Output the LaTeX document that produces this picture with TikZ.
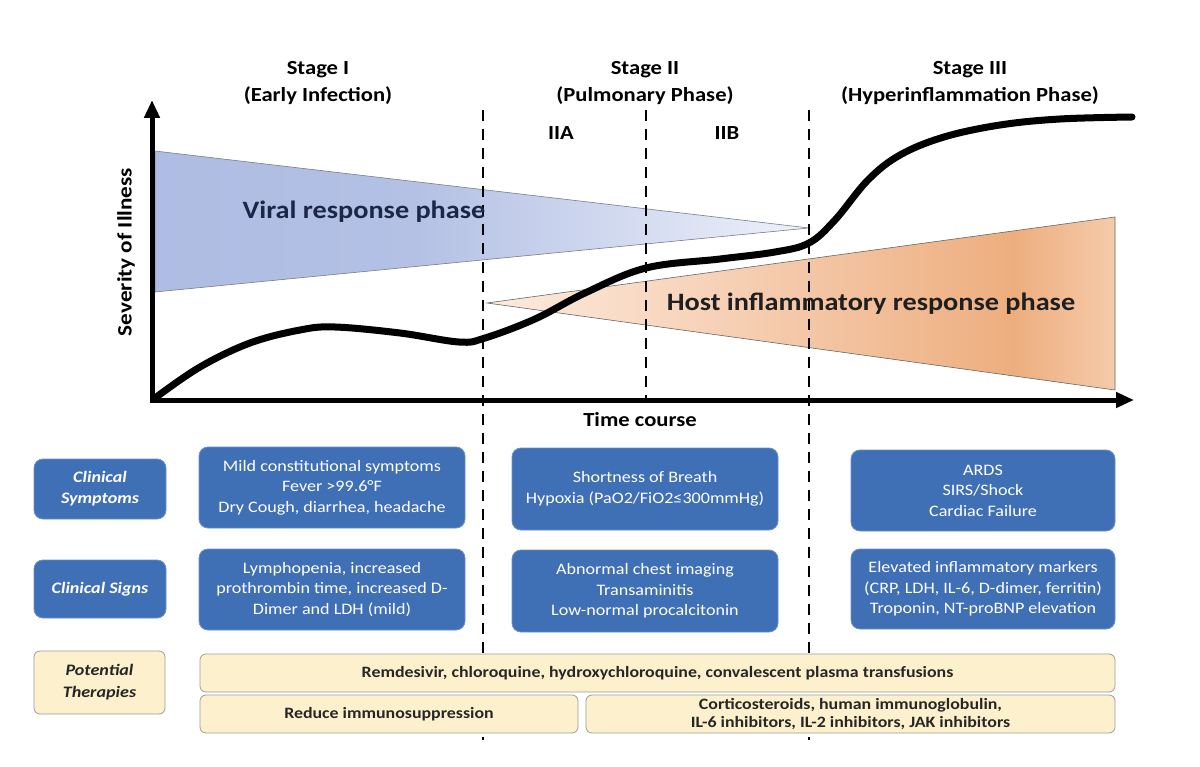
\documentclass[tikz,border=0pt]{standalone}
\usepackage{fontspec}
\setmainfont{Carlito}[FakeStretch=1.13]
\usetikzlibrary{arrows.meta}
\definecolor{boxblue}{HTML}{3F6FB5}
\definecolor{boxedge}{HTML}{6A8FCB}
\definecolor{cream}{HTML}{FDF1CD}
\definecolor{creamedge}{HTML}{9C9C9C}
\definecolor{navy}{HTML}{1C2646}
\definecolor{bl1}{HTML}{AFBCE3}
\definecolor{bl2}{HTML}{B4C1E5}
\definecolor{bl3}{HTML}{EEF1FA}
\definecolor{or1}{HTML}{FCEBDF}
\definecolor{or2}{HTML}{F7D3BA}
\definecolor{or3}{HTML}{EDAE7E}
\definecolor{or4}{HTML}{F5CBAA}
\pgfdeclarehorizontalshading{blueshade}{100bp}{color(0bp)=(bl1); color(25bp)=(bl1); color(45bp)=(bl2); color(75bp)=(bl3); color(100bp)=(bl3)}
\pgfdeclarehorizontalshading{orangeshade}{100bp}{color(0bp)=(or1); color(25bp)=(or1); color(42bp)=(or2); color(67bp)=(or3); color(75bp)=(or4); color(100bp)=(or4)}
\tikzset{
  every node/.style={inner sep=0pt},
  axisline/.style={line width=5pt},
  dashline/.style={line width=2.3pt, dash pattern=on 11pt off 8pt},
  stagelbl/.style={font=\fontsize{20}{27}\selectfont\bfseries, align=center},
  subtag/.style={font=\fontsize{20}{22}\selectfont\bfseries},
  bluebox/.style={draw=boxedge, line width=0.8pt, fill=boxblue, rounded corners=9pt, text=white, align=center, font=\fontsize{16}{20.5}\selectfont},
  labelbox/.style={bluebox, font=\fontsize{16}{21}\selectfont\bfseries\itshape},
  creambox/.style={draw=creamedge, line width=0.8pt, fill=cream, rounded corners=6pt, text=black!85, align=center, font=\fontsize{15.8}{18.5}\selectfont\bfseries},
  phasetxt/.style={font=\fontsize{25}{28}\selectfont\bfseries},
  curve/.style={line width=7pt, line cap=round}
}
\begin{document}
\begin{tikzpicture}[x=1pt,y=-1pt]
\useasboundingbox[fill=white] (0,0) rectangle (1200,767);
% triangles
\path[shading=blueshade, draw=navy!60, line width=0.6pt] (155,151) -- (809,228) -- (155,292) -- cycle;
\path[shading=orangeshade, draw=gray!80!black, line width=0.6pt] (487,303) -- (1115,217) -- (1115,390) -- cycle;
% dashed lines
\coordinate (d1t) at (483,110); \coordinate (d1b) at (483,740);
\coordinate (d2t) at (646,110); \coordinate (d2b) at (646,398);
\coordinate (d3t) at (809,110); \coordinate (d3b) at (809,740);
\draw[dashline] (d1t) -- (d1b);
\draw[dashline] (d2t) -- (d2b);
\draw[dashline] (d3t) -- (d3b);
% phase texts
\node[phasetxt, text=navy] (vrp) at (364,212) {Viral response phase};
\node[phasetxt, text=black!88] (hirp) at (871,304) {Host inflammatory response phase};
% curve
\draw[curve] plot[smooth, tension=0.6] coordinates {(155,398) (200,367) (250,343) (300,330) (335,327) (400,333) (459,342) (485,338) (535,319) (585,293) (646,268) (720,259) (775,252) (809,243) (835,220) (868,180) (900,155) (944,137) (1000,125) (1060,119) (1132,117)};
% axes
\coordinate (origin) at (152,400);
\coordinate (ytip) at (152,100);
\coordinate (xtip) at (1134,400);
\draw[axisline, -{Triangle[length=18pt,width=15pt]}] (origin) ++(0,2.5) -- (ytip);
\draw[axisline, -{Triangle[length=18pt,width=15pt]}] (origin) ++(-2.5,0) -- (xtip);
\node[font=\fontsize{20.5}{22}\selectfont\bfseries, rotate=90] (ylab) at (126,252) {Severity of Illness};
\node[font=\fontsize{20}{22}\selectfont\bfseries] (xlab) at (640,420) {Time course};
% stage labels
\node[stagelbl] (s1) at (318,83) {Stage I\\(Early Infection)};
\node[stagelbl] (s2) at (645,83) {Stage II\\(Pulmonary Phase)};
\node[stagelbl] (s3) at (970,83) {Stage III\\(Hyperinflammation Phase)};
\node[subtag] (iia) at (561,133) {IIA};
\node[subtag] (iib) at (727,133) {IIB};
% clinical boxes
\node[labelbox, minimum width=132pt, minimum height=60pt] (cs) at (100,489) {Clinical\\Symptoms};
\node[labelbox, minimum width=132pt, minimum height=58pt] (sg) at (100,589) {Clinical Signs};
\node[bluebox, minimum width=266pt, minimum height=81pt] (s1sy) at (332,487.5) {Mild constitutional symptoms\\Fever >99.6\textdegree F\\Dry Cough, diarrhea, headache};
\node[bluebox, minimum width=266pt, minimum height=81pt] (s1sg) at (332,589.5) {Lymphopenia, increased\\prothrombin time, increased D-\\Dimer and LDH (mild)};
\node[bluebox, minimum width=266pt, minimum height=82pt] (s2sy) at (645,489) {Shortness of Breath\\Hypoxia (PaO2/FiO2≤300mmHg)};
\node[bluebox, minimum width=266pt, minimum height=82pt] (s2sg) at (645,591) {Abnormal chest imaging\\Transaminitis\\Low-normal procalcitonin};
\node[bluebox, minimum width=264pt, minimum height=81pt] (s3sy) at (983,490.5) {ARDS\\SIRS/Shock\\Cardiac Failure};
\node[bluebox, minimum width=264pt, minimum height=80pt] (s3sg) at (983,589) {Elevated inflammatory markers\\(CRP, LDH, IL-6, D-dimer, ferritin)\\Troponin, NT-proBNP elevation};
% therapies
\node[creambox, font=\fontsize{16}{22}\selectfont\bfseries\itshape, minimum width=131pt, minimum height=63pt] (pt) at (99.5,682.5) {Potential\\Therapies};
\node[creambox, minimum width=915pt, minimum height=38pt] (t1) at (657.5,673) {Remdesivir, chloroquine, hydroxychloroquine, convalescent plasma transfusions};
\node[creambox, minimum width=378pt, minimum height=38pt] (t2) at (389,714) {Reduce immunosuppression};
\node[creambox, minimum width=529pt, minimum height=38pt] (t3) at (850.5,714) {Corticosteroids, human immunoglobulin,\\IL-6 inhibitors, IL-2 inhibitors, JAK inhibitors};
\end{tikzpicture}
\end{document}
